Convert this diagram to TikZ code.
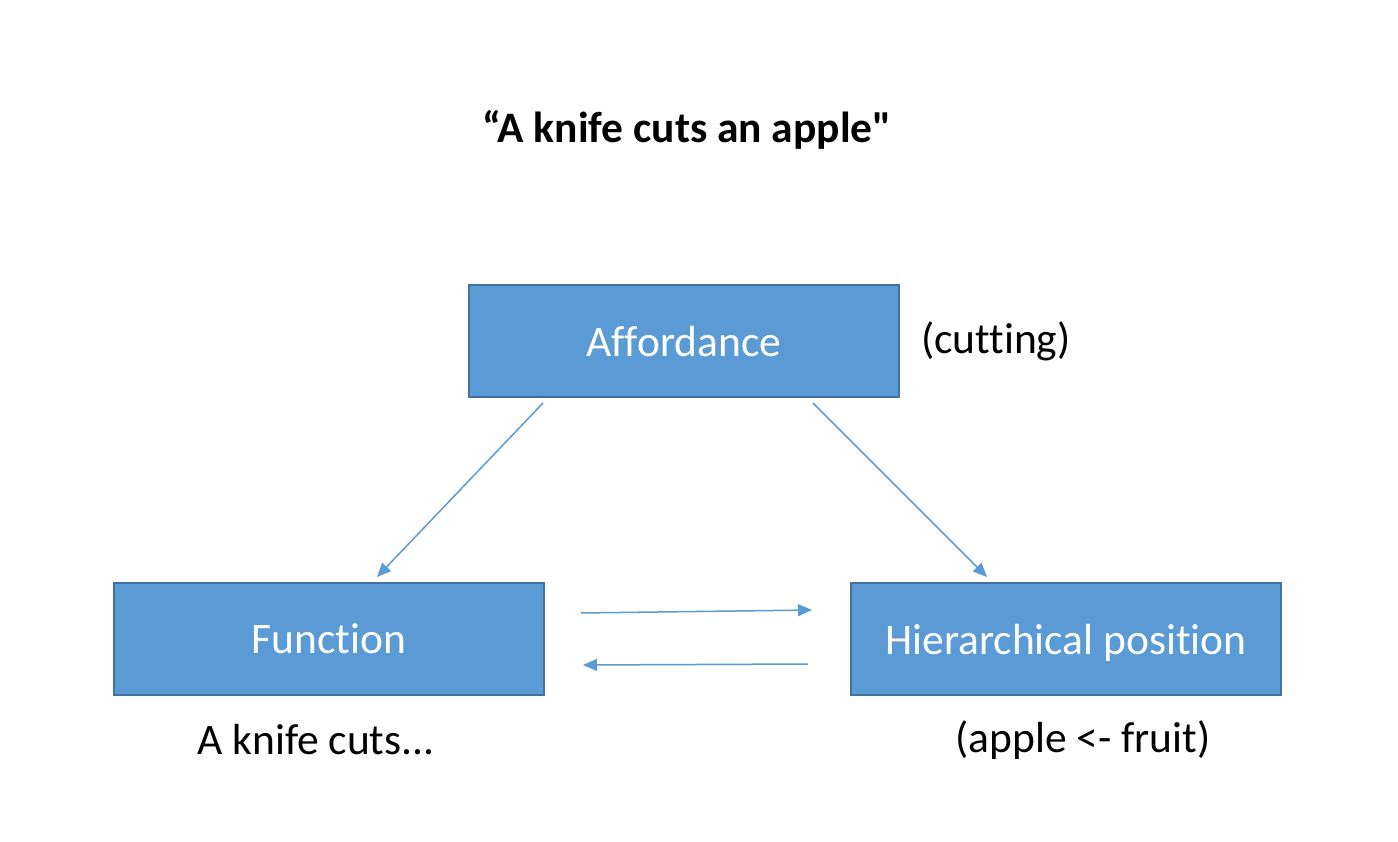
\documentclass[tikz,border=0pt]{standalone}
\usepackage{fontspec}
\newfontfamily\calfont{Carlito}[Ligatures=NoCommon]
\usetikzlibrary{arrows.meta}
\definecolor{boxfill}{HTML}{5B9BD5}
\definecolor{boxline}{HTML}{41719C}
\definecolor{arrowc}{HTML}{5B9BD5}
\begin{document}
\begin{tikzpicture}[x=1pt,y=-1pt,
  box/.style={draw=boxline,line width=2pt,fill=boxfill,text=white,minimum width=430pt,minimum height=112pt,inner sep=0pt,text depth=0pt,font=\calfont\fontsize{43.5}{52}\selectfont},
  lbl/.style={text=black,inner sep=0pt,font=\calfont\fontsize{43.5}{52}\selectfont},
  conn/.style={draw=arrowc,line width=1.5pt,-{Triangle[length=14pt,width=12pt]}}]
\useasboundingbox (0,0) rectangle (1398,842);
\node[lbl,font=\calfont\bfseries\fontsize{43.5}{52}\selectfont] (title) at (687,130) {“A knife cuts an apple"};
\node[box] (aff) at (684,341) {Affordance};
\node[box] (fun) at (329,639) {Function};
\node[box] (hier) at (1066,639) {Hierarchical position};
\node[lbl,anchor=west] (cut) at (921,341) {(cutting)};
\node[lbl] (knife) at (316,740) {A knife cuts...};
\node[lbl] (fruit) at (1083,740) {(apple <- fruit)};
\coordinate (a1) at (543,403);
\coordinate (f1) at (377,577);
\coordinate (a2) at (813,403);
\coordinate (h1) at (987,577);
\coordinate (t1) at (581,613);
\coordinate (t2) at (812,610);
\coordinate (b1) at (808,664);
\coordinate (b2) at (583,665);
\draw[conn] (a1) -- (f1);
\draw[conn] (a2) -- (h1);
\draw[conn] (t1) -- (t2);
\draw[conn] (b1) -- (b2);
\end{tikzpicture}
\end{document}
